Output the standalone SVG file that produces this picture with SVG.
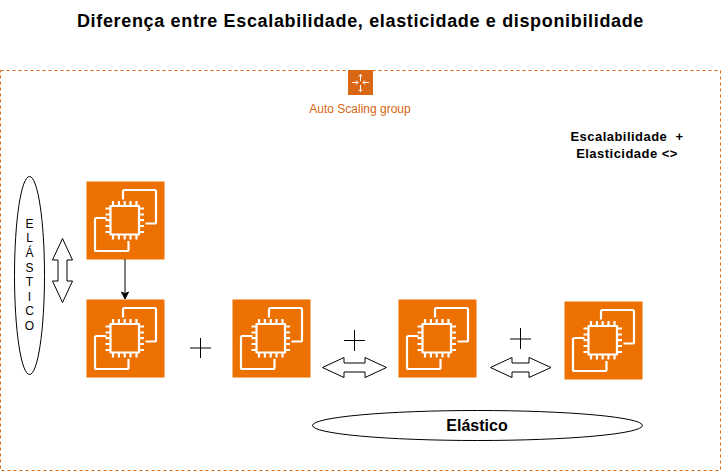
<svg xmlns="http://www.w3.org/2000/svg" width="721" height="471" viewBox="0 0 721 471">
<style>
text{font-family:"Liberation Sans",Arial,sans-serif}
.sh{fill:#fff;stroke:#000;stroke-width:1}
.dbl{fill:#fff;stroke:#000;stroke-width:1}
.ln{fill:none;stroke:#000;stroke-width:1}
.b{font-weight:bold;fill:#000;text-anchor:middle}
.note{font-size:13px;letter-spacing:.47px}
.ic{fill:none;stroke:#fff;stroke-width:2.200;stroke-linejoin:round}
</style>
<defs>
<symbol id="ec2" viewBox="0 0 78 78" width="78" height="78" overflow="visible">
<rect width="78" height="78" fill="#ED7100"/>
<path class="ic" d="M36.500 18V10a1.500 1.500 0 0 1 1.500-1.500H68a1.500 1.500 0 0 1 1.500 1.500V40.500a1.500 1.500 0 0 1-1.500 1.500H59"/>
<path class="ic" d="M20 36.500H10a1.500 1.500 0 0 0-1.500 1.500V68a1.500 1.500 0 0 0 1.500 1.500H40.500a1.500 1.500 0 0 0 1.500-1.500V59.500"/>
<rect class="ic" x="24" y="24.500" width="28.500" height="28.500"/>
<path class="ic" d="M26.500 24.500v-5M32.400 24.500v-5M38.200 24.500v-5M44 24.500v-5M50 24.500v-5M26.500 53v5M32.400 53v5M38.200 53v5M44 53v5M50 53v5M24 27h-5M24 33h-5M24 38.700h-5M24 44.500h-5M24 50.500h-5M52.500 27h5M52.500 33h5M52.500 38.700h5M52.500 44.500h5M52.500 50.500h5"/>
</symbol>
</defs>
<rect width="721" height="471" fill="#fff"/>
<text class="b" x="360.500" y="27" font-size="18" letter-spacing=".66">Diferença entre Escalabilidade, elasticidade e disponibilidade</text>
<g id="group">
<rect x="0.500" y="70.500" width="720" height="400" fill="none" stroke="#D86613" stroke-dasharray="3 3"/>
<rect x="348" y="70" width="25" height="25" fill="#D86613"/>
<path d="M360.500 74.500v6.500M360.500 85v6.500M358.500 76.500l2-2 2 2M358.500 89.500l2 2 2-2M352 82.500h6M363 82.500h6M356 80.500l2 2-2 2M365 80.500l-2 2 2 2" fill="none" stroke="#fff" stroke-width="1"/>
<text x="360" y="113" font-size="12" fill="#D86613" text-anchor="middle">Auto Scaling group</text>
</g>
<g id="note">
<text class="b note" x="627" y="141" xml:space="preserve">Escalabilidade  +</text>
<text class="b note" x="627" y="158">Elasticidade &lt;&gt;</text>
</g>
<g id="elastico-v">
<ellipse class="sh" cx="29.500" cy="275.500" rx="15" ry="99"/>
<g font-size="12" fill="#000" text-anchor="middle">
<text x="29.500" y="228">E</text><text x="29.500" y="242">L</text><text x="29.500" y="257">Á</text><text x="29.500" y="272">S</text><text x="29.500" y="286">T</text><text x="29.500" y="301">I</text><text x="29.500" y="315">C</text><text x="29.500" y="330">O</text>
</g>
</g>
<g id="ec2-1"><use href="#ec2" x="86.500" y="181.500"/></g>
<g id="ec2-2"><use href="#ec2" x="86.500" y="299.500"/></g>
<g id="ec2-3"><use href="#ec2" x="232.500" y="299.500"/></g>
<g id="ec2-4"><use href="#ec2" x="398.500" y="299.500"/></g>
<g id="ec2-5"><use href="#ec2" x="564.500" y="301.500"/></g>
<g id="elastico-h">
<ellipse class="sh" cx="477.500" cy="425.500" rx="165" ry="15"/>
<text class="b" x="477" y="431" font-size="16">Elástico</text>
</g>
<g id="connectors">
<path d="M125 259V293" fill="none" stroke="#000"/>
<path d="M125 299l-3.500-7 3.500 1.750 3.500-1.750z" fill="#000" stroke="#000"/>
<path class="dbl" d="M62.500 238.500L72.500 260H67V281H72.500L62.500 302.500L52.500 281H58V260H52.500z"/>
<path class="dbl" d="M322.500 367.500L344 357.500V363H365V357.500L386.500 367.500L365 377.500V372H344V377.500z"/>
<path class="dbl" d="M490.500 367.500L512 357.500V363H529V357.500L551 367.500L529 377.500V372H512V377.500z"/>
<path class="ln" d="M190 348H211M200.500 338V358"/>
<path class="ln" d="M344 340.500H365M354.500 330V351"/>
<path class="ln" d="M510 339H531M520.500 328V349"/>
</g>
</svg>
